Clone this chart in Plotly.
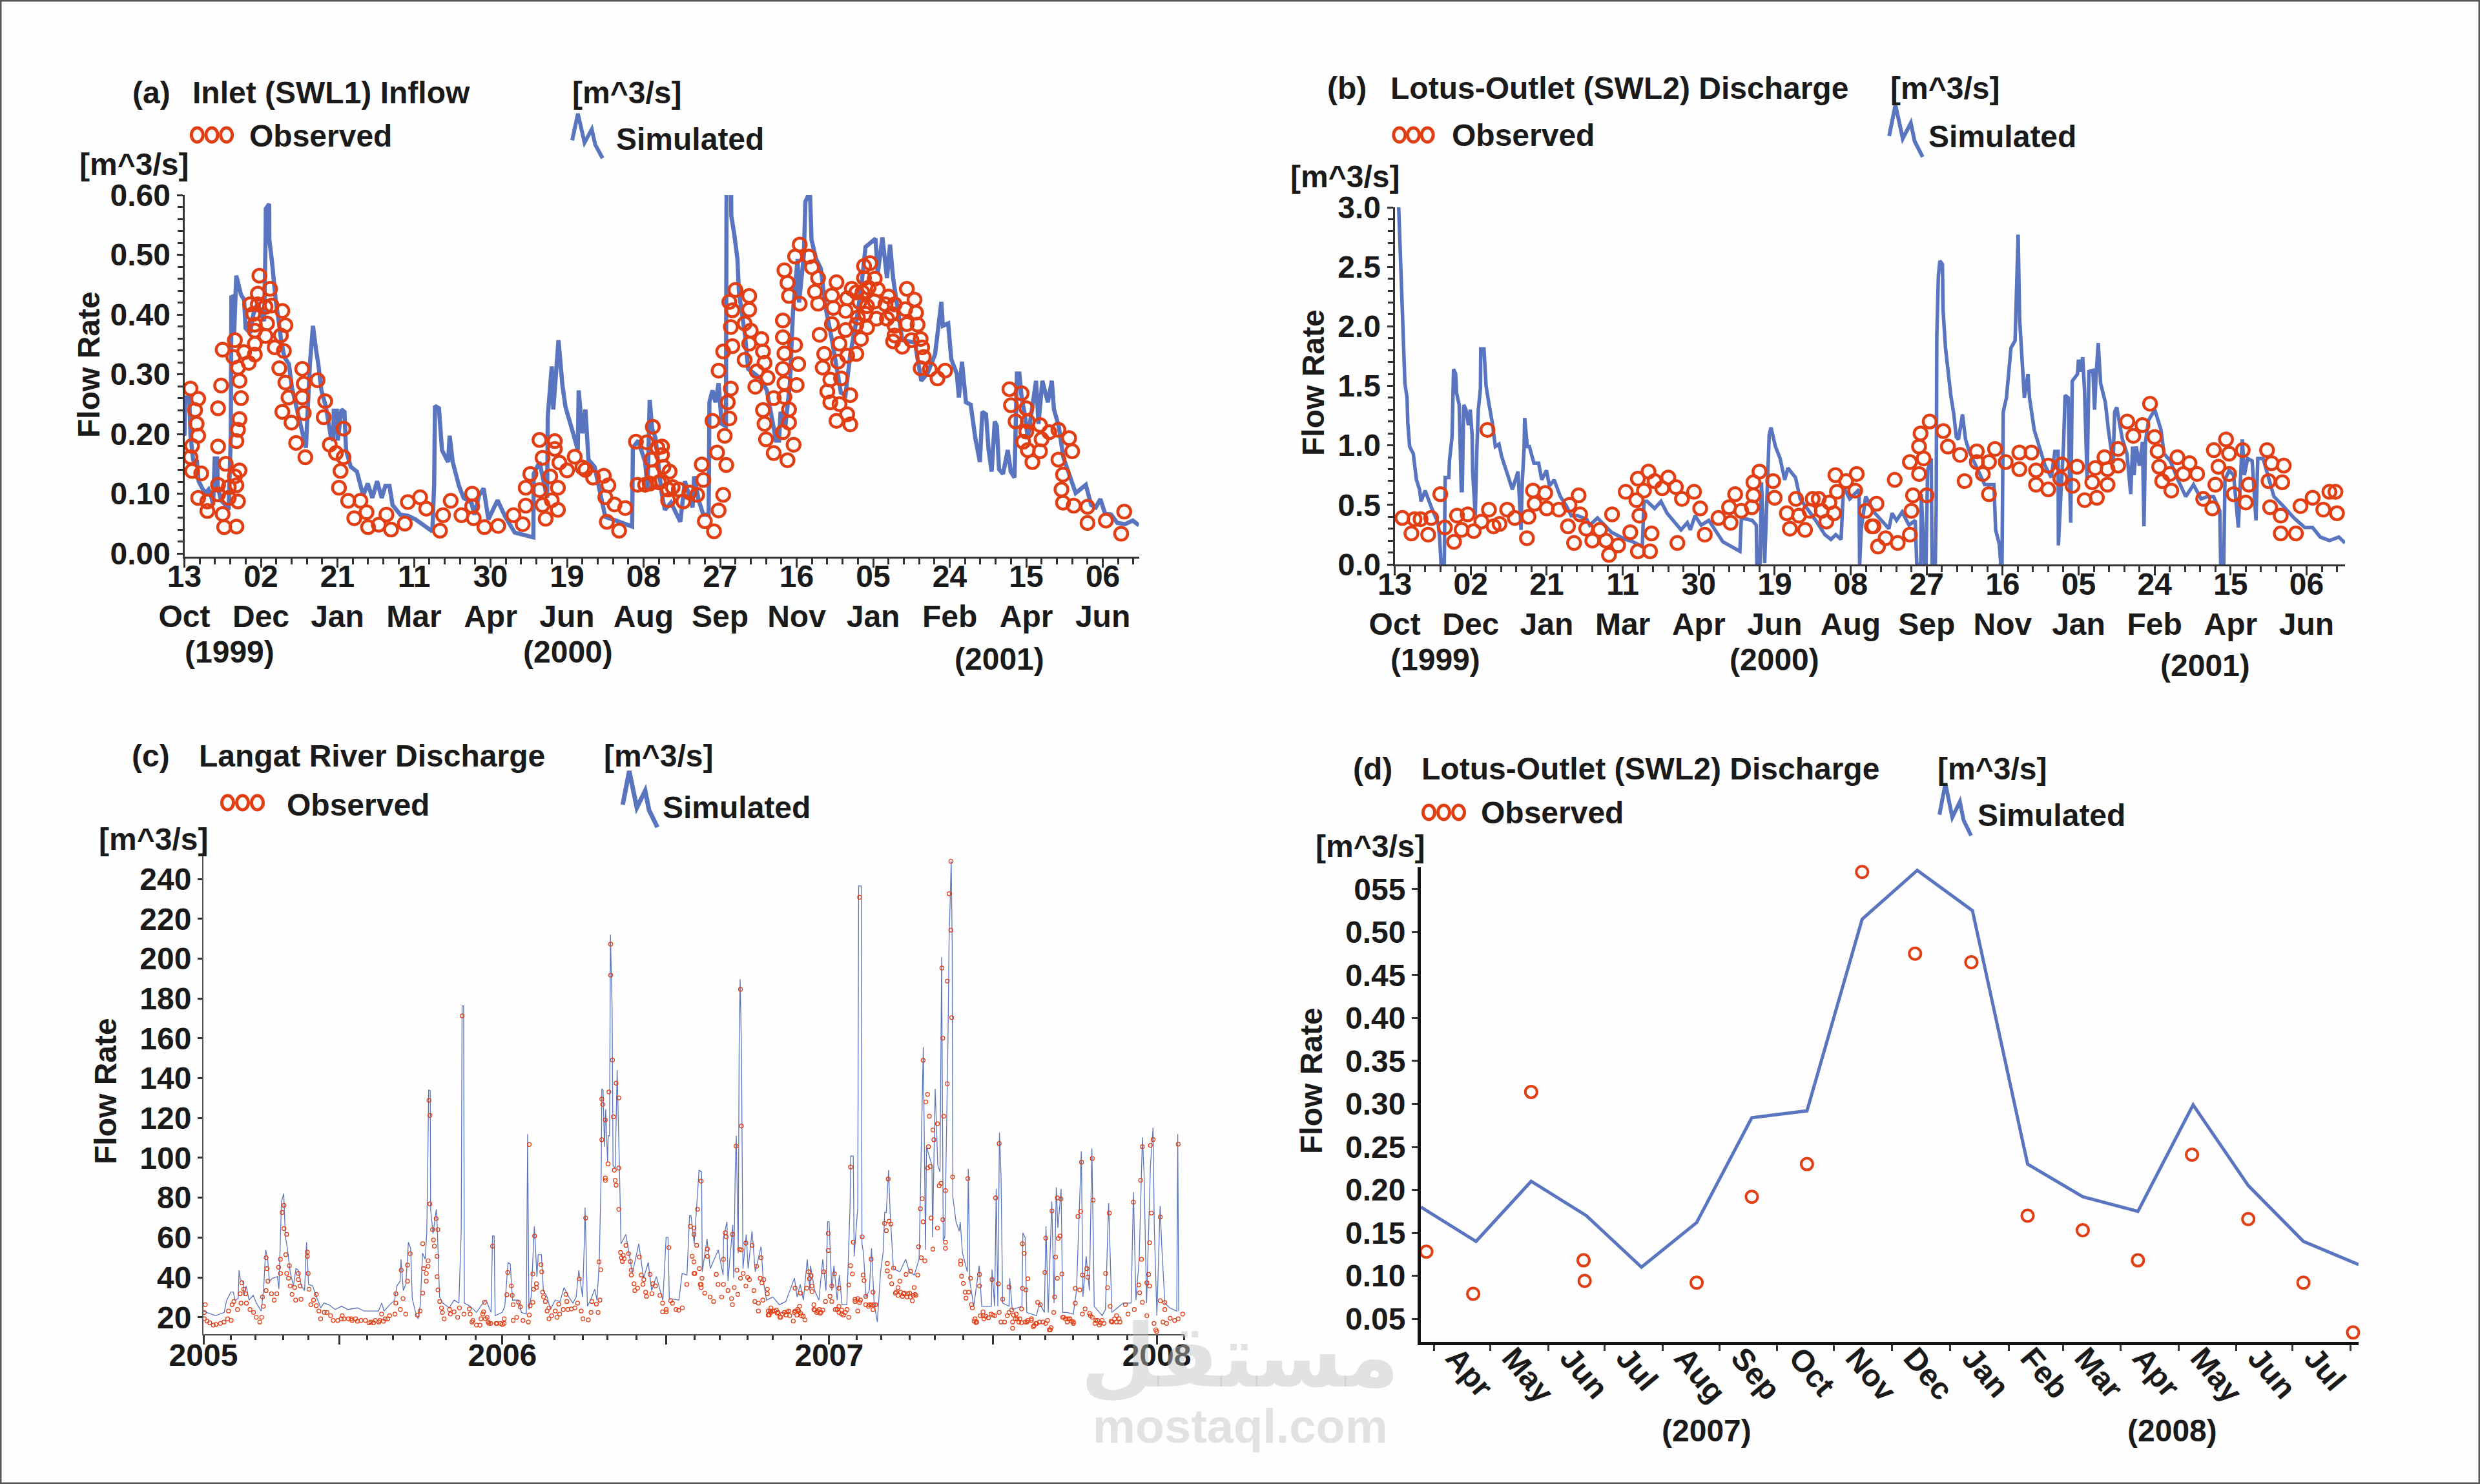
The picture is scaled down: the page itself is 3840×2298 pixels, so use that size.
import plotly.graph_objects as go

W, H = 3840, 2298
FONT = "Liberation Sans"
INK = "#1a1a1a"
AXIS = "#333333"
BLUE = "#5A75BF"
RED = "#E23E14"

# ---- (a) Inlet inflow: (days since 13 Oct 1999, m^3/s) ----
A_SIM = [(0,.197),(.6,.261),(3.2,.261),(4,.197),(5.7,.157),(7.3,.149),(8.1,.157),(9.3,.121),(11.7,.109),(13.7,.101),(15.8,.107),(17.4,.097),(18.8,.081),(19.8,.159),(21.4,.159),(21.8,.113),(23.8,.089),(26.9,.081),(28.9,.073),(30.3,.193),(30.7,.429),(32.3,.431),(32.5,.369),(33.9,.465),(37,.433),(39,.425),(40,.377),(43,.369),(45,.40),(48,.42),(50,.40),(52.1,.389),(53.1,.533),(53.2,.577),(55.4,.585),(55.5,.525),(57.2,.489),(58.2,.461),(59.8,.421),(61.2,.397),(63.2,.357),(65.3,.329),(68.3,.317),(70.3,.277),(73.3,.245),(76.4,.213),(79.4,.177),(82,.317),(84,.381),(86,.341),(87.5,.317),(89.5,.273),(92.5,.245),(95.6,.197),(97.2,.189),(97.6,.239),(99.6,.239),(100.2,.189),(102.6,.241),(104.6,.237),(105.6,.173),(108.7,.145),(112.7,.137),(116.8,.097),(119.8,.117),(122.8,.093),(125.9,.121),(128.9,.093),(131.3,.113),(134,.113),(136,.081),(141,.065),(146,.063),(151,.057),(157,.045),(162,.037),(163.2,.117),(163.7,.247),(166.3,.243),(168.3,.173),(172.3,.153),(173.3,.197),(175.3,.153),(179.4,.113),(182.4,.093),(187.5,.085),(189.5,.065),(192.5,.097),(195.5,.109),(198.6,.057),(204.6,.089),(209.7,.061),(215.8,.035),(228,.027),(228.2,.133),(232,.153),(237,.093),(237.4,.229),(240,.313),(241,.241),(243,.309),(244.4,.357),(247,.281),(249,.245),(254,.201),(257,.173),(257.6,.273),(260,.201),(262,.241),(264,.157),(268,.145),(272,.097),(275,.061),(282,.055),(292.5,.045),(293,.177),(296.5,.189),(301,.153),(302.6,.109),(304,.257),(305.6,.209),(307.8,.193),(311.8,.101),(313.9,.073),(317.9,.085),(324,.053),(327,.121),(332,.077),(333,.129),(336,.089),(339,.065),(342.5,.065),(343,.253),(345,.273),(347,.253),(349,.285),(351,.217),(353.8,.213),(354.2,.601),(357.2,.609),(357.3,.565),(359.3,.533),(361.3,.493),(362.3,.437),(366.3,.365),(368.3,.309),(376.4,.293),(380.5,.273),(383.5,.233),(386.5,.189),(388.5,.189),(389.5,.237),(392.6,.213),(395.6,.285),(397.6,.405),(400.6,.493),(401.6,.42),(404.7,.50),(405.7,.589),(408.7,.605),(409.7,.525),(412.7,.493),(415.8,.477),(418.8,.413),(422.8,.361),(425.9,.317),(428.9,.269),(431.9,.265),(435,.333),(439,.389),(442,.441),(445,.513),(449,.521),(451.5,.527),(453,.469),(456,.529),(459,.461),(461,.517),(463,.461),(466,.413),(469,.357),(477.3,.353),(481.4,.289),(485.4,.301),(490.4,.333),(494.5,.421),(495.5,.381),(499,.385),(501,.325),(504.6,.301),(506,.261),(508,.321),(510.6,.253),(513.7,.249),(516.7,.193),(519.7,.153),(521.3,.237),(523.7,.233),(525.4,.173),(527.4,.137),(529.4,.221),(530.8,.213),(532.2,.141),(534.8,.133),(537.9,.173),(539.9,.137),(542.3,.127),(543.9,.301),(545.5,.301),(547,.261),(549,.233),(551,.193),(556.4,.289),(558,.217),(560.5,.289),(564.1,.253),(566.7,.289),(568.1,.241),(571.2,.213),(574.2,.161),(578.2,.129),(582.3,.101),(588.9,.115),(592.4,.081),(595.4,.077),(598.4,.091),(601.4,.067),(605.5,.065),(609.5,.051),(614.6,.049),(619.6,.055),(623.6,.047)]
A_OBS = [(4,.276),(9,.259),(7,.240),(8,.217),(9,.197),(5,.180),(4,.161),(5,.138),(11,.134),(9,.093),(15,.087),(15,.071),(22,.179),(22,.243),(24,.281),(25,.341),(33,.357),(32,.329),(39,.337),(42,.319),(46,.333),(46,.351),(35,.311),(36,.289),(37,.260),(36,.225),(35,.207),(34,.188),(27,.150),(36,.139),(33,.129),(34,.114),(22,.115),(22,.099),(29,.111),(29,.093),(35,.087),(25,.066),(26,.044),(34,.045),(49,.465),(48,.435),(56,.443),(43,.417),(48,.417),(57,.415),(64,.406),(66,.382),(53,.413),(45,.401),(46,.383),(46,.373),(54,.385),(53,.364),(63,.365),(59,.345),(65,.339),(62,.310),(66,.286),(68,.261),(64,.237),(70,.219),(73,.185),(79,.161),(77,.309),(78,.284),(77,.261),(78,.235),(87,.290),(92,.255),(91,.228),(104,.209),(95,.182),(99,.168),(104,.161),(102,.138),(101,.110),(107,.088),(115,.088),(119,.069),(111,.059),(120,.044),(127,.048),(132,.065),(135,.040),(144,.050),(146,.086),(154,.094),(158,.075),(167,.038),(169,.064),(174,.088),(181,.064),(188,.100),(188,.079),(189,.059),(196,.044),(205,.046),(215,.064),(221,.049),(223,.080),(223,.110),(226,.133),(232,.190),(234,.160),(242,.188),(242,.175),(245,.152),(250,.139),(255,.162),(260,.144),(262,.140),(267,.127),(274,.130),(277,.114),(275,.094),(281,.082),(288,.076),(276,.053),(284,.038),(239,.129),(244,.110),(232,.106),(234,.081),(240,.089),(244,.073),(236,.058),(295,.187),(302,.186),(306,.212),(309,.177),(305,.157),(306,.136),(296,.115),(301,.115),(304,.117),(310,.119),(312,.179),(312,.165),(313,.145),(317,.137),(312,.121),(316,.107),(316,.089),(319,.111),(323,.107),(326,.087),(330,.102),(335,.098),(338,.149),(339,.123),(340,.054),(346,.037),(349,.072),(352,.098),(354,.148),(353,.197),(348,.169),(345,.222),(356,.226),(355,.253),(357,.276),(349,.306),(352,.338),(358,.347),(357,.379),(358,.407),(356,.421),(360,.441),(369,.431),(369,.408),(366,.385),(370,.373),(369,.351),(366,.324),(377,.359),(378,.338),(379,.319),(374,.305),(381,.294),(373,.279),(385,.260),(378,.240),(379,.217),(380,.191),(385,.168),(391,.203),(394,.156),(398,.182),(395,.219),(395,.241),(392,.262),(392,.285),(391,.309),(392,.335),(391,.362),(391,.390),(399,.349),(401,.317),(400,.282),(402,.418),(395,.431),(394,.453),(392,.474),(399,.497),(402,.517),(408,.497),(410,.479),(414,.461),(412,.438),(414,.418),(415,.366),(423,.432),(426,.454),(424,.411),(423,.384),(428,.351),(432,.374),(433,.427),(432,.406),(436,.443),(439,.437),(441,.421),(444,.481),(448,.486),(444,.461),(451,.460),(447,.445),(453,.442),(443,.437),(451,.422),(446,.414),(440,.395),(445,.401),(439,.383),(446,.378),(452,.393),(442,.359),(439,.334),(433,.331),(427,.321),(418,.334),(417,.311),(429,.293),(422,.291),(420,.271),(422,.253),(428,.250),(435,.265),(433,.233),(435,.216),(426,.222),(460,.430),(458,.417),(459,.393),(464,.417),(462,.401),(464,.381),(464,.365),(463,.355),(469,.346),(472,.443),(477,.425),(471,.409),(478,.403),(472,.384),(479,.383),(475,.357),(481,.359),(482,.345),(483,.329),(481,.310),(487,.308),(492,.293),(497,.306),(539,.275),(540,.248),(543,.221),(547,.268),(550,.243),(551,.221),(550,.204),(548,.187),(551,.173),(554,.153),(559,.171),(560,.191),(559,.215),(565,.203),(571,.207),(578,.193),(580,.171),(571,.157),(574,.132),(573,.107),(574,.085),(581,.080),(590,.078),(590,.051),(602,.055),(614,.070),(612,.033)]
A_TICK_DAYS = [0, 50, 100, 150, 200, 250, 300, 350, 400, 450, 500, 550, 600]
DAY_MONTH_LABELS = ["13<br>Oct", "02<br>Dec", "21<br>Jan", "11<br>Mar", "30<br>Apr", "19<br>Jun", "08<br>Aug",
                    "27<br>Sep", "16<br>Nov", "05<br>Jan", "24<br>Feb", "15<br>Apr", "06<br>Jun"]

# ---- (b) Lotus outlet discharge, 1999-2001 ----
B_SIM = [(2.6,3.0),(3.3,2.76),(4.1,2.42),(4.5,2.20),(5.5,2.0),(6.1,1.82),(6.7,1.52),(8.1,1.40),(8.6,1.19),(9.8,.99),(12.2,.93),(14.3,.71),(16.3,.63),(17.3,.53),(20,.62),(24.4,.47),(28.5,.35),(29.5,.23),(30.5,0),(32.6,0),(33.2,.73),(35.6,.73),(36,.87),(37.7,1.07),(38.7,1.64),(40.1,1.6),(40.7,1.44),(42.4,1.34),(43.8,.62),(44.4,.62),(45.4,1.34),(46.8,1.30),(48.5,1.17),(49.7,1.30),(50.9,1.09),(51.3,.77),(53,.41),(54,.95),(55,1.30),(56.4,1.48),(56.6,1.81),(58.7,1.81),(60.1,1.50),(62.1,1.34),(64.2,1.19),(66.2,.99),(68.6,1.01),(70.3,.91),(73.3,.79),(77.4,.63),(81.1,.78),(83.1,.29),(83.9,.69),(85.1,.97),(85.5,1.23),(87.2,.99),(88.6,.99),(91.6,.85),(94.7,.85),(96.7,.71),(99.8,.79),(101.8,.66),(104.9,.71),(109,.57),(113,.49),(116.1,.41),(120.2,.41),(126.3,.38),(128.3,.33),(133.4,.39),(136.5,.35),(142.6,.27),(151.7,.21),(156.8,.19),(162.9,.15),(164,.53),(166,.53),(171,.47),(175.2,.53),(179.2,.43),(188.4,.29),(192.5,.35),(194.5,.29),(197.6,.41),(201.6,.33),(206.7,.37),(215.9,.19),(227.1,.11),(228.1,.39),(235.2,.37),(237.9,.33),(238.3,0),(240.3,0),(241.3,.69),(243.4,.01),(245.4,.89),(246.4,1.09),(247.6,1.15),(250.5,.99),(253.6,.89),(256.6,.71),(258.7,.81),(263.7,.73),(266.8,.55),(277,.37),(283,.25),(287,.21),(290.2,.25),(293.7,.21),(295.3,.65),(299.4,.55),(305.5,.63),(305.9,0),(307,.3),(309.9,.57),(316,.43),(325.2,.30),(327.2,.43),(330.2,.37),(333.9,.44),(338.4,.33),(342.5,.37),(343.5,0),(346.1,0),(346.5,.59),(348.6,0),(349.6,0),(350.6,.79),(353,.89),(353.6,0),(355.7,0),(356.3,.47),(356.7,1.92),(357.7,2.42),(358.7,2.55),(360.4,2.52),(360.8,2.14),(362.4,1.82),(363.8,1.66),(365.9,1.42),(367.9,1.26),(369.5,1.07),(370.9,1.05),(373.6,1.26),(375.6,1.05),(378,.95),(383.1,.81),(388.2,.67),(394.3,.67),(395.4,.29),(397.8,.17),(398.8,0),(399.6,0),(400.4,1.28),(402.5,1.40),(404.5,1.66),(405.5,1.82),(408.2,1.88),(409,2.34),(410.2,2.77),(411.2,2.06),(412.6,1.80),(414.3,1.40),(416.7,1.60),(417.7,1.40),(420.8,1.13),(424.9,.97),(427.9,.83),(432,.73),(434.4,.95),(436.5,.95),(436.7,.16),(438.5,.63),(440.1,1.01),(441.1,1.42),(443.2,1.40),(443.8,.85),(444.8,.35),(445.8,1.54),(449.3,1.60),(449.9,1.72),(450.9,1.62),(452.7,1.74),(453.9,1.46),(455.6,.71),(456.8,1.62),(459.4,1.63),(460.5,1.30),(461.5,1.59),(462.9,1.86),(464.5,1.52),(467.6,1.36),(469.6,1.13),(472.7,.85),(473.7,1.28),(475.1,1.32),(478.8,1.05),(481.8,.93),(484.3,.59),(485.5,.99),(486.5,.75),(487.9,.99),(490,.83),(492,1.03),(493,.32),(494,1.03),(496,1.21),(500.1,1.30),(504.2,1.13),(506.2,.93),(510.3,.87),(515.4,.71),(520.5,.57),(525.6,.67),(530.6,.55),(534.7,.57),(538.8,.57),(542.9,.45),(543.5,0),(545.5,0),(546.3,.71),(549,.79),(552,.75),(555.1,.31),(557.7,1.05),(559.1,.75),(561.2,.89),(564.2,.87),(566.7,.37),(567.9,.89),(571.4,.89),(574.4,.75),(578.5,.57),(584.6,.49),(591.7,.39),(598.8,.31),(603.9,.31),(609,.23),(615.1,.20),(621.2,.23),(625.3,.18)]
B_OBS = [(5,.39),(11,.26),(13,.38),(17,.38),(22,.25),(24,.39),(30,.59),(33,.31),(39,.19),(41,.41),(44,.29),(48,.42),(52,.28),(57,.36),(61,1.13),(62,.46),(65,.32),(69,.34),(74,.46),(79,.39),(87,.22),(88,.40),(91,.62),(92,.51),(99,.60),(100,.47),(108,.46),(115,.50),(121,.58),(114,.32),(118,.18),(122,.42),(126,.30),(130,.20),(135,.29),(139,.20),(141,.08),(147,.16),(143,.42),(152,.61),(155,.27),(160,.72),(164,.62),(159,.54),(161,.41),(160,.11),(168,.11),(169,.26),(167,.78),(171,.70),(176,.64),(180,.73),(185,.65),(189,.55),(186,.18),(197,.61),(201,.47),(204,.25),(213,.39),(220,.48),(221,.35),(224,.59),(228,.45),(235,.48),(236,.58),(236,.69),(240,.78),(249,.70),(250,.56),(258,.43),(260,.30),(264,.55),(266,.41),(270,.29),(273,.45),(275,.55),(279,.55),(281,.45),(284,.36),(286,.52),(289,.43),(291,.61),(290,.75),(297,.70),(303,.62),(304,.76),(310,.45),(315,.32),(317,.51),(314,.32),(318,.15),(323,.22),(331,.18),(339,.25),(329,.71),(340,.45),(341,.58),(350,.58),(345,.76),(339,.86),(348,.89),(345,.99),(346,1.10),(352,1.20),(361,1.12),(364,.99),(372,.92),(375,.70),(383,.95),(383,.86),(387,.76),(391,.86),(391,.59),(395,.97),(402,.86),(411,.94),(411,.80),(419,.94),(422,.79),(422,.67),(430,.83),(430,.63),(439,.84),(438,.72),(446,.66),(449,.82),(454,.54),(459,.69),(461,.81),(462,.56),(467,.90),(469,.80),(469,.67),(476,.97),(476,.83),(482,1.20),(486,1.08),(492,1.17),(497,1.35),(500,1.07),(502,.95),(503,.82),(510,.76),(505,.70),(511,.62),(515,.90),(519,.76),(523,.85),(528,.76),(532,.55),(538,.47),(539,.96),(547,1.05),(549,.93),(542,.82),(549,.76),(540,.67),(552,.59),(558,.96),(562,.67),(560,.52),(574,.96),(577,.85),(585,.83),(575,.70),(584,.69),(576,.48),(583,.41),(583,.26),(593,.26),(596,.49),(604,.56),(611,.46),(615,.61),(619,.61),(620,.43)]

# ---- (c) Langat River discharge: (days since the start of the record, m^3/s) ----
C_SIM = [(0,23.1),(3.6,22.4),(13.6,20.8),(18,21.6),(23.3,22.4),(25.8,28.3),(30.5,32.6),(33.4,32.6),(35.2,28.6),(38.8,29.4),(39.8,43.6),(41.3,38.9),(44,38.1),(45.6,31),(47.7,35.7),(51,28.6),(55.6,31),(59.2,27.1),(64.6,23.1),(67.1,33.4),(69.6,53.8),(71.8,49.1),(73.6,38.1),(77.2,39.6),(82.6,40.4),(84.3,34.1),(87.2,78.1),(89.7,82.1),(91.5,60.8),(94,53.8),(96.9,42.8),(100.5,35.7),(103.4,44.4),(105.9,43.6),(109.5,35.7),(113,33.4),(115.2,57.7),(117.4,36.5),(122,35.7),(126.3,30.2),(131,24.7),(134.6,27.1),(140,26.3),(147.2,23.9),(154.3,25.5),(161.5,23.9),(172.3,24.7),(179.5,23.1),(195.6,23.1),(199.2,27.1),(201.7,23.1),(208.2,26.3),(213.6,28.6),(216.1,35.7),(219.7,38.1),(220.7,49.1),(223.3,33.4),(226.1,36.5),(229,57.7),(231.5,54.6),(233.3,29.4),(237,22.4),(239.8,19.2),(242.3,26.3),(244.8,52.2),(247.7,49.1),(249.5,62.4),(250.5,92.3),(251.6,134.2),(253.4,133.6),(253.8,74.2),(256.5,62),(260.2,74.2),(261.3,64.8),(263.8,30.2),(267.4,27.1),(274.6,24.7),(280,28.6),(285.4,27.1),(288,64),(289,176.3),(290.7,176.3),(291.5,27.1),(298,25.5),(305,22.4),(312.3,27.1),(315.9,28.6),(321.3,22.4),(323,60.8),(324.8,60.8),(325.9,20.8),(333.8,22.4),(336.7,25.5),(340.3,47.5),(342.8,46.7),(345.3,28.6),(351.8,28.6),(355.3,22.4),(360.7,21.6),(362.2,111.9),(363.6,23.9),(366.1,30.2),(369.7,65.6),(372.6,40.4),(374,51.4),(377.6,51.4),(379.8,33.4),(384,30.2),(387.7,23.9),(393,28.6),(398.4,27.9),(402.9,34.9),(408.2,30.2),(412.8,27.1),(416.4,30.2),(419.3,43.6),(423.6,30.2),(425.7,60.1),(426.4,75),(429,25.5),(432.5,28.6),(437.2,34.1),(439.7,28.6),(442.2,47.5),(444.4,93.1),(445.1,134.7),(446.5,133.9),(448,105.6),(449.4,124.5),(451.5,97.8),(452.2,111.1),(453.7,111.1),(454.7,212.1),(456.6,174.8),(457.6,96.2),(460,94.6),(462.2,144.1),(464.7,96.2),(466.5,56.9),(471.9,61.6),(479.2,42),(486.4,56.9),(491.7,39.6),(497,47.5),(500.7,33.4),(506,40.4),(513.3,28.6),(516.9,60.1),(519,60.1),(520.5,29.4),(531.2,28.6),(534.8,42),(540.2,41.2),(543.1,71),(544.7,71),(548.3,56.9),(553.7,93.8),(556.5,93),(557.3,42.8),(562.6,59.3),(566.2,44.4),(575.2,53.8),(580.6,41.2),(581,60.1),(584.9,67.9),(586,38.1),(591.4,66.3),(592.4,39.6),(594.2,94.6),(595.3,111.1),(597.5,52.2),(598.5,156.7),(599.6,189.7),(601,156.7),(602.8,44.4),(606.4,61.6),(608.6,44.4),(612.9,63.2),(616.5,42.8),(623,55.4),(625.5,38.1),(629.1,28.6),(636.2,30.2),(643.4,26.3),(650.6,27.9),(660.3,39.6),(663.2,30.2),(666.7,36.5),(670.3,28.6),(674.6,49.1),(677.5,33.4),(678.2,45.9),(682.9,33.4),(687.6,28.6),(691.9,49.1),(695.5,33.4),(697.3,67.9),(699,67.9),(702,33.4),(704.4,45.9),(708,28.6),(710.5,41.2),(713.4,26.3),(718.8,26.3),(722.4,75.8),(723.1,100.9),(726,100.9),(727,50.6),(731,75),(732,236.5),(734.9,236.5),(735.7,56.9),(737.4,52.2),(740.3,30.2),(743.9,33.4),(746.4,54.6),(749.3,27.1),(752.9,17.6),(756.5,42.8),(759.3,52.2),(761.1,72.6),(762.9,72.6),(765.4,93.8),(767.2,72.6),(770.8,44.4),(778,42.8),(784.5,49.1),(788.8,42.8),(794.2,41.2),(799.5,49.1),(801.7,102.5),(804.2,155.6),(806.7,53.8),(807.8,105.6),(813.9,96.2),(814.6,60.1),(817.5,134.7),(820.4,96.2),(822.9,93),(824.7,200.7),(826.5,58.5),(828.3,60.1),(831.8,159),(833,208.2),(835.4,249),(836.5,207.7),(837.2,80.5),(840.8,67.9),(844.4,63.2),(845.5,67.9),(848,52.2),(853.4,42.8),(854.5,94.6),(856.2,38.1),(860.6,25.5),(866.7,45.9),(869.5,25.5),(880.3,25.5),(881,44),(883.9,25.5),(885.7,84.4),(887.5,25.5),(889.3,112.7),(891.1,90.7),(892.9,27.1),(900,25.5),(900.8,39.6),(903.6,23.9),(914.4,25.5),(915.5,62.4),(918,60.1),(919.8,22.4),(930.6,20.8),(934.1,27.1),(939.5,22.4),(941.3,65.6),(943.8,22.4),(947.8,78.1),(950.3,27.1),(952.8,85.2),(954.6,64.8),(958.2,84.4),(960,22.4),(964.7,22.4),(971.8,21.6),(975.4,33.4),(980.8,103.3),(982.6,30.2),(986.2,50.6),(989.8,33.4),(992.6,104.8),(995.2,25.5),(1004.1,20.8),(1007.7,23.9),(1011.3,77.3),(1014.9,22.4),(1027.5,27.1),(1036.4,27.1),(1039,82.8),(1041.8,28.6),(1045.4,49.1),(1049,110.3),(1050.8,93),(1053.7,27.1),(1058,96.2),(1060.9,115.1),(1062.3,64.8),(1065.2,20.8),(1068.8,75.8),(1070.5,56.9),(1074.1,27.1),(1079.5,24.7),(1087.4,23.1),(1088.5,111.9),(1089.6,23.1)]
C_OBS = [(1,22.4),(2,26.3),(1,19.2),(4,18.1),(7,17.2),(11,16.1),(14,16.4),(19,16.9),(23,17.6),(27,19.2),(31,18.4),(28,23.1),(32,26.3),(34,27.9),(38,23.9),(41,31.8),(42,27.1),(43,37.3),(45,34.1),(47,31.8),(48,27.1),(52,23.9),(56,22.4),(59,20),(63,17.6),(65,20),(67,25.5),(66,30.2),(70,33.4),(70,49.9),(71,44.4),(72,38.1),(76,31.8),(79,28.6),(82,31.8),(84,45.1),(86,49.1),(86,42),(88,72.6),(90,76.2),(90,64.5),(93,61.6),(92,51.4),(93,42),(96,45.9),(95,39.6),(97,35.7),(99,31.5),(103,28.6),(102,34.9),(106,42),(106,38.9),(108,35.7),(109,29),(116,52.7),(116,50.6),(117,42),(118,34.1),(120,26.3),(123,28.6),(126,31.5),(126,25.8),(129,23.1),(131,19.2),(135,22.4),(138,22.4),(142,20.8),(145,18.4),(150,18.4),(155,20.8),(162,19.2),(166,18.4),(170,19.2),(176,18.4),(181,18.4),(187,17.6),(192,18.4),(197,18.4),(199,21.6),(203,19.2),(208,20.8),(214,21.6),(215,27.1),(215,31.8),(220,23.9),(221,43.6),(223,29.4),(226,21.6),(228,38.1),(228,46.2),(231,51.9),(239,21.1),(242,23.1),(245,56.9),(245,32.1),(246,44.4),(249,42),(251,48.3),(251,45.6),(249,38.1),(252,128.9),(253,121.3),(253,76.9),(256,64),(257,58.8),(258,55.7),(260,69.5),(262,64),(261,50.6),(261,40.4),(262,33.7),(264,27.9),(266,24.7),(267,22.4),(269,19.2),(275,23.9),(276,21.6),(280,22.7),(284,20),(286,24.7),(289,171.3),(291,21.6),(297,24.2),(298,21.6),(301,18.4),(305,16.1),(310,19.2),(314,27.5),(313,22.7),(317,20),(321,16.9),(323,55.7),(327,16.9),(332,16.9),(336,19.2),(339,31.3),(340,42.5),(344,35.7),(345,31),(346,26.3),(346,18.4),(350,20),(352,27.5),(354,25.2),(357,18.4),(363,17.6),(364,21.1),(364,106.7),(365,25.8),(368,27.5),(368,41.7),(370,60.8),(369,34.1),(372,36.8),(372,34.9),(377,46.4),(378,42.8),(379,32.6),(380,30.2),(382,27.9),(384,23.1),(386,24.7),(386,19.2),(389,20.8),(393,23.1),(395,20),(397,26.6),(398,21.6),(402,23.9),(405,31.5),(406,27.9),(407,23.9),(411,24.2),(415,24.7),(418,27.1),(420,39.2),(422,23.1),(424,19.2),(427,69.8),(430,18.7),(434,27.9),(433,22.4),(439,26.6),(441,22.4),(442,47.8),(443,28.6),(444,43.9),(445,129.5),(446,126.8),(445,109.1),(449,119),(449,89.9),(449,88.7),(452,97),(453,133.1),(455,191.7),(455,207.3),(457,149.1),(458,120.6),(459,93.8),(460,88.7),(461,86.3),(461,137.5),(464,130.1),(464,94.9),(464,74.2),(466,52.5),(467,49.9),(469,51.1),(468,48),(470,49.4),(472,56.1),(475,51.9),(477,48),(478,43.6),(478,41.2),(481,36.8),(482,33.4),(485,34.6),(487,50.2),(489,41.2),(491,36.5),(492,38.9),(494,32.6),(495,30.5),(499,41.5),(501,31.8),(502,36.8),(505,35.7),(510,31),(513,27.1),(513,22.7),(517,23.9),(517,22.7),(520,55),(522,28.3),(524,27.1),(528,23.9),(531,23.5),(535,24.7),(540,36.5),(544,65.6),(546,50.6),(548,64.8),(549,42),(552,74.2),(551,56.1),(554,44.4),(555,36.5),(556,88.3),(556,34.9),(548,61.6),(563,54.2),(563,50.6),(548,42),(548,47.8),(557,39.6),(556,36.5),(560,32.1),(566,30.2),(570,27.9),(573,41.5),(575,36.5),(579,30.2),(581,49.1),(581,36.5),(583,62.4),(584,60.4),(586,33.4),(590,29.4),(591,26.3),(591,61.6),(593,34.9),(595,105.9),(596,43.6),(597,31.5),(599,54.1),(600,39.6),(601,53.8),(600,184.6),(601,116),(603,42),(606,35.7),(606,57.2),(608,40),(610,38.9),(613,56.1),(615,33.4),(618,45.6),(616,27.9),(620,27.1),(620,23.1),(622,39.6),(623,49.9),(624,37.3),(626,38.9),(625,28.6),(630,34.1),(630,31.8),(631,23.1),(632,21.1),(634,24.7),(638,23.1),(642,22.4),(645,20),(651,21.1),(654,23.1),(659,18.1),(661,23.1),(661,34.6),(665,23.1),(667,32.1),(668,20.8),(672,18.7),(674,34.6),(676,42.8),(677,39.3),(679,40.9),(680,35.7),(680,32.9),(682,26.3),(683,23.6),(686,23.1),(690,22.4),(693,42.8),(695,27.9),(698,62.1),(698,53.5),(700,30.5),(702,27.9),(702,35.7),(705,41.8),(706,23.9),(710,25.5),(710,34.6),(713,21.6),(717,22.4),(721,20),(721,36.2),(723,45.9),(723,95.4),(725,41.7),(726,57.7),(728,29),(731,23.1),(733,230.8),(734,28.6),(736,60.4),(737,41.2),(738,38.4),(740,30.5),(746,49.1),(744,26.3),(748,32.6),(749,26.3),(761,67.1),(763,63.5),(764,47),(764,43.3),(765,89.4),(766,68.2),(768,66.8),(767,40.4),(769,36.8),(771,44.7),(774,32.6),(776,34.9),(778,38.1),(782,31.8),(785,41.5),(787,31.8),(790,43.1),(792,28.3),(794,34.9),(796,31),(798,41.2),(799,55.4),(801,74.5),(802,49.9),(804,67.9),(803,79.5),(804,149),(806,48.3),(807,128.1),(809,131.9),(811,120.9),(810,105.6),(809,94.9),(812,95.7),(813,69.8),(815,54.2),(816,109.1),(815,114),(820,64.8),(820,117.1),(822,86),(824,87.2),(825,195.3),(826,160.1),(827,120.9),(826,69),(829,83.6),(829,57.7),(829,54.6),(831,137.2),(831,188.7),(833,232.6),(835,248.9),(835,214.3),(836,170.4),(837,90.4),(846,48.3),(846,46.6),(847,40.6),(849,37),(851,32.6),(852,29.6),(854,89.6),(855,32.6),(857,39.6),(858,26.3),(859,24.7),(861,18.1),(864,17.6),(867,41.5),(867,35.7),(871,22.7),(872,19.2),(877,19.7),(881,38.9),(882,21.1),(885,79.9),(888,36.8),(889,107.2),(889,22.4),(891,17.6),(895,17.6),(893,29.1),(900,35.2),(900,22.4),(904,14.5),(907,19.2),(911,17.6),(914,24.2),(915,56.9),(915,34.5),(917,52.1),(919,33.7),(921,39.3),(920,17.6),(925,18.4),(927,15.3),(932,27.5),(935,26.3),(931,16.9),(938,17.6),(940,42.5),(941,59.7),(943,18.4),(945,13.7),(947,14.8),(948,73.4),(950,22.4),(951,30.2),(952,50.2),(954,39.6),(954,79.9),(955,59.6),(957,60.8),(958,79.4),(959,41.7),(961,20),(966,19.2),(972,17.6),(974,27.1),(974,34.5),(977,70.6),(979,33.7),(980,73.1),(981,97.8),(982,41.2),(982,21.6),(985,24.2),(988,40.1),(987,44.4),(990,21.9),(993,99.7),(994,78.8),(997,18.4),(1002,17.2),(1008,42),(1010,34.9),(1012,72.3),(1013,25.5),(1015,17.6),(1020,20.8),(1024,17.6),(1030,26.3),(1033,21.6),(1039,77.8),(1040,23.9),(1045,36.2),(1046,32.3),(1047,88.8),(1048,49.1),(1049,27.5),(1049,105.6),(1054,37.3),(1054,20.8),(1056,41.5),(1057,35.7),(1058,106.3),(1059,72.3),(1057,57.4),(1061,109.2),(1062,16.9),(1064,13.7),(1065,12.9),(1069,70.3),(1069,28.3),(1072,17.6),(1074,27.4),(1074,23.9),(1076,16.9),(1080,19.5),(1085,18.4),(1089,106.9),(1089,19.2),(1094,21.6)]
# Low-flow days in the dry spells of (c)
C_OBS_LOW = [(154,19.2),(157,19.2),(165,19.2),(172,18),(185,17.2),(190,17.2),(196,17.6),(201,18),(206,19.2),(300,17.6),(309,16),(312,21.6),(315,19.2),(318,17.6),(319,16.9),(328,16.9),(334,16.4),(336,16.9),(631,21.1),(633,23.1),(634,22.4),(636,23.1),(640,23.6),(641,22),(644,20),(647,21.6),(649,22.4),(652,22.7),(655,20.8),(660,22.4),(663,21.1),(664,23.9),(666,25.5),(667,22),(670,20.5),(682,23.9),(685,22.4),(688,23.9),(689,22),(692,23.6),(708,23.9),(710,22.4),(713,23.6),(715,21.1),(719,23.9),(728,27.9),(731,29.4),(733,27.4),(740,26.3),(743,25.5),(746,26.3),(748,23.9),(751,26.3),(773,32.1),(776,31),(779,32.6),(781,30.5),(783,32.1),(786,30.2),(789,32.1),(790,30.2),(793,31),(795,31.5),(862,19.2),(863,17.3),(868,20.8),(871,20.8),(874,20.5),(880,21.6),(884,20.8),(898,20.8),(903,23.6),(904,17.6),(905,21.1),(908,21.6),(909,19.2),(912,19.2),(914,17.3),(918,17.6),(921,18.4),(925,19.2),(928,15.8),(930,16.9),(934,17.6),(941,16.9),(946,13.7),(960,20),(963,19.2),(965,17.6),(968,19.2),(970,18),(972,16.9),(991,20.8),(993,20),(996,16.9),(999,18.4),(1001,16.1),(1004,18.4),(1006,16.9),(1014,18),(1018,19.2),(1020,17.6),(1023,19.2)]
C_MAJOR_TICKS = [0, 152, 334, 517, 699, 882, 1065]
C_MAJOR_LABELS = ["2005", "", "2006", "", "2007", "", "2008"]
C_MONTH_TICKS = [30.5, 58, 89, 117, 183, 212, 242, 271, 304, 364, 392, 423.6, 451.5, 483.5, 549, 577, 608, 636, 668,
                 729.6, 757.5, 788.8, 816.8, 848.7, 912.6, 940.6, 971.8, 999.8, 1031.8, 1095.7]

# ---- (d) Lotus outlet discharge, monthly 2007-2008 ----
D_MONTH_INDEX = list(range(18))
D_SIM = [.18, .14, .21, .17, .11, .162, .284, .292, .515, .572, .525, .23, .192, .175, .299, .205, .14, .113]
D_OBS = [(.1,.128),(.95,.079),(2,.314),(2.95,.118),(2.97,.094),(5,.092),(6,.192),(7,.230),(8,.570),(8.96,.475),
         (9.98,.465),(11,.17),(12,.153),(13,.118),(13.98,.241),(15,.166),(16,.092),(16.9,.034)]
D_TICKS = [.24, 1.26, 2.31, 3.33, 4.38, 5.41, 6.46, 7.49, 8.54, 9.6, 10.66, 11.64, 12.69, 13.74, 14.78, 15.8, 16.85]
D_LABELS = ["Apr", "May", "Jun", "Jul", "Aug", "Sep", "Oct", "Nov", "Dec", "Jan", "Feb", "Mar", "Apr", "May", "Jun", "Jul", ""]
D_Y_TICKS = [.05, .10, .15, .20, .25, .30, .35, .40, .45, .50, .55]
D_Y_LABELS = ["0.05", "0.10", "0.15", "0.20", "0.25", "0.30", "0.35", "0.40", "0.45", "0.50", "055"]


def px_x(x):
    return x / W


def px_y(y):
    return 1 - y / H


def font(size=48, color=INK):
    return dict(family=FONT, size=size, color=color, weight="bold")


fig = go.Figure()
shapes, notes = [], []


def label(x, y, text, size=48, anchor="left", angle=0, color=INK, family=None):
    f = font(size, color)
    if family:
        f["family"] = family
    if anchor == "left":
        x -= 3
    notes.append(dict(x=px_x(x), y=px_y(y), xref="paper", yref="paper", text=text, showarrow=False,
                      xanchor=anchor, yanchor="middle", font=f, textangle=angle, align="left"))


def add_panel(n, box, xaxis, yaxis, sim_x, sim_y, obs, line_w, mark_size, mark_w):
    left, top, right, bottom = box
    suffix = "" if n == 1 else str(n)
    fig.add_trace(go.Scatter(x=sim_x, y=sim_y, mode="lines", xaxis=f"x{suffix}", yaxis=f"y{suffix}",
                             line=dict(color=BLUE, width=line_w), showlegend=False, name="Simulated"))
    ox, oy = zip(*obs)
    fig.add_trace(go.Scatter(x=ox, y=oy, mode="markers", xaxis=f"x{suffix}", yaxis=f"y{suffix}", showlegend=False,
                             name="Observed", cliponaxis=False,
                             marker=dict(symbol="circle-open", size=mark_size, color=RED,
                                         line=dict(color=RED, width=mark_w))))
    base = dict(showgrid=False, zeroline=False, showline=True, ticks="outside", tickfont=font(48))
    layout[f"xaxis{suffix}"] = {**base, "domain": [px_x(left), px_x(right)], "anchor": f"y{suffix}", **xaxis}
    layout[f"yaxis{suffix}"] = {**base, "domain": [px_y(bottom), px_y(top)], "anchor": f"x{suffix}", **yaxis}


def add_key(rings, zig, zig_w):
    """Legend keys: three open rings and a short zigzag sample."""
    x0, x1, yc = rings
    step = (x1 - x0) / 3
    for i in range(3):
        cx = x0 + step * (i + .5)
        shapes.append(dict(type="circle", xref="paper", yref="paper", x0=px_x(cx - 9), x1=px_x(cx + 9),
                           y0=px_y(yc + 11), y1=px_y(yc - 11), line=dict(color=RED, width=5)))
    zx0, zy0, zx1, zy1 = zig
    pts = [(.04, .6), (.22, 0), (.43, .65), (.66, .35), (.77, .7), (1, 1)]
    path = ""
    for i, (fx, fy) in enumerate(pts):
        path += ("M" if i == 0 else "L") + f"{px_x(zx0 + fx * (zx1 - zx0)):.5f},{px_y(zy0 + fy * (zy1 - zy0)):.5f}"
    shapes.append(dict(type="path", xref="paper", yref="paper", path=path, line=dict(color=BLUE, width=zig_w)))


layout = dict(width=W, height=H, autosize=False, margin=dict(l=0, r=0, t=0, b=0, pad=0, autoexpand=False),
              paper_bgcolor="#fefefe", plot_bgcolor="rgba(0,0,0,0)", showlegend=False)

thin_axis = dict(linecolor=AXIS, linewidth=3, tickcolor=AXIS, tickwidth=3)

# (a)
ax, ay = zip(*A_SIM)
add_panel(1, (285.5, 302, 1763.5, 862),
          dict(range=[0, 623.6], tickmode="array", tickvals=A_TICK_DAYS, ticktext=DAY_MONTH_LABELS, ticklen=14,
               ticklabelstandoff=-28,
               minor=dict(dtick=10, tick0=0, ticks="outside", ticklen=9, tickwidth=3, tickcolor=AXIS), **thin_axis),
          dict(range=[-.0054, .6], tickmode="linear", tick0=0, dtick=.1, tickformat=".2f", ticklen=9,
               minor=dict(dtick=.02, ticks="outside", ticklen=8, tickwidth=3, tickcolor=AXIS), **thin_axis),
          ax, ay, A_OBS, 6.5, 20, 4.5)
label(206, 144, "(a)")
label(299, 143, "Inlet (SWL1) Inflow")
label(887, 144, "[m^3/s]")
add_key((294, 362, 209), (884, 176, 933, 245), 6)
label(387, 210, "Observed")
label(955, 215, "Simulated")
label(124, 255, "[m^3/s]")
label(137, 565, "Flow Rate", anchor="center", angle=-90)
label(355, 1009, "(1999)", anchor="center")
label(879, 1009, "(2000)", anchor="center")
label(1547, 1020, "(2001)", anchor="center")

# (b)
bx, by = zip(*B_SIM)
add_panel(2, (2159.6, 321, 3631, 874),
          dict(range=[0, 625.3], tickmode="array", tickvals=A_TICK_DAYS, ticktext=DAY_MONTH_LABELS, ticklen=14,
               ticklabelstandoff=-28,
               minor=dict(dtick=10, tick0=0, ticks="outside", ticklen=9, tickwidth=3, tickcolor=AXIS), **thin_axis),
          dict(range=[0, 3], tickmode="linear", tick0=0, dtick=.5, tickformat=".1f", ticklen=9,
               minor=dict(dtick=.1, ticks="outside", ticklen=8, tickwidth=3, tickcolor=AXIS), **thin_axis),
          bx, by, B_OBS, 5.5, 20, 4.5)
label(2056, 137, "(b)")
label(2154, 137, "Lotus-Outlet (SWL2) Discharge")
label(2928, 137, "[m^3/s]")
add_key((2156, 2221, 209), (2923, 162, 2977, 243), 6)
label(2249, 209, "Observed")
label(2987, 212, "Simulated")
label(1999, 274, "[m^3/s]")
label(2033, 593, "Flow Rate", anchor="center", angle=-90)
label(2222, 1021, "(1999)", anchor="center")
label(2747, 1021, "(2000)", anchor="center")
label(3414, 1031, "(2001)", anchor="center")

# (c)
cx, cy = zip(*C_SIM)
add_panel(3, (315, 1325, 1834, 2066),
          dict(range=[0, 1096], tickmode="array", tickvals=C_MAJOR_TICKS, ticktext=C_MAJOR_LABELS, ticklen=14,
               ticklabelstandoff=-25, linecolor="#555555", linewidth=2, tickcolor=AXIS, tickwidth=3,
               minor=dict(tickvals=C_MONTH_TICKS, ticks="outside", ticklen=7, tickwidth=3, tickcolor=AXIS)),
          dict(range=[11.5, 251.7], tickmode="linear", tick0=20, dtick=20, ticklen=7,
               linecolor="#555555", linewidth=2, tickcolor=AXIS, tickwidth=3),
          cx, cy, C_OBS + C_OBS_LOW, 1.3, 6, 1.3)
label(205, 1170, "(c)")
label(309, 1170, "Langat River Discharge")
label(936, 1170, "[m^3/s]")
add_key((341, 410, 1243), (962, 1194, 1018, 1281), 7)
label(445, 1246, "Observed")
label(1027, 1250, "Simulated")
label(154, 1299, "[m^3/s]")
label(163, 1690, "Flow Rate", anchor="center", angle=-90)

# (d)
add_panel(4, (2200, 1343, 3652, 2078),
          dict(range=[0, 17], tickmode="array", tickvals=D_TICKS, ticktext=D_LABELS, tickangle=50, ticklen=9,
               ticklabelstandoff=-37, ticklabelshift=34,
               linecolor="#111111", linewidth=5, tickcolor=AXIS, tickwidth=3),
          dict(range=[.023, .5755], tickmode="array", tickvals=D_Y_TICKS, ticktext=D_Y_LABELS, ticklen=9,
               linecolor="#111111", linewidth=5, tickcolor=AXIS, tickwidth=3),
          D_MONTH_INDEX, D_SIM, D_OBS, 5, 18, 4)
label(2096, 1190, "(d)")
label(2202, 1190, "Lotus-Outlet (SWL2) Discharge")
label(3001, 1190, "[m^3/s]")
add_key((2201, 2270, 1258), (3001, 1213, 3052, 1294), 6)
label(2294, 1258, "Observed")
label(3063, 1262, "Simulated")
label(2038, 1310, "[m^3/s]")
label(2030, 1674, "Flow Rate", anchor="center", angle=-90)
label(2642, 2215, "(2007)", anchor="center")
label(3363, 2215, "(2008)", anchor="center")

# Site mark and page frame
MARK = "rgba(190,192,192,0.45)"
label(1920, 2100, "مستقل", size=135, anchor="center", color=MARK, family="DejaVu Sans")
label(1920, 2208, "mostaql.com", size=74, anchor="center", color=MARK)
shapes.append(dict(type="rect", xref="paper", yref="paper", x0=0, x1=1, y0=0, y1=1,
                   line=dict(color="#555555", width=5)))

layout["shapes"] = shapes
layout["annotations"] = notes
fig.update_layout(**layout)
fig.write_html("out.html")
